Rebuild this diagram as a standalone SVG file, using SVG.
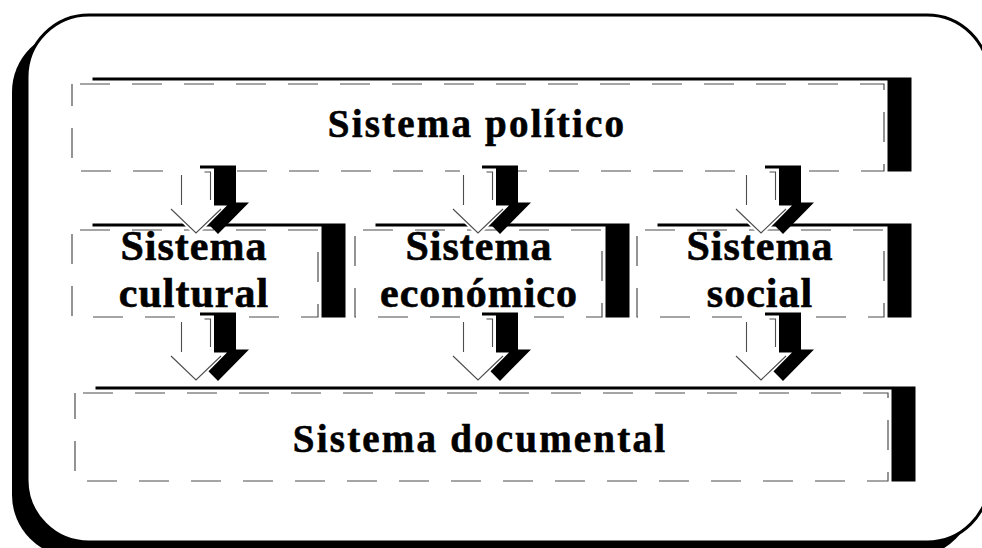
<svg xmlns="http://www.w3.org/2000/svg" width="982" height="548" viewBox="0 0 982 548">
<style>
.sh{fill:#000}
.wb{fill:#fff}
.dl{fill:none;stroke:#4d4d4d;stroke-width:1.2;stroke-dasharray:30 22;stroke-dashoffset:44}
.al{fill:none;stroke:#4d4d4d;stroke-width:1.1}
.t{font-family:"Liberation Serif","Times New Roman",serif;font-weight:bold;fill:#000;stroke:#000;stroke-width:0.6;text-anchor:middle}
.t1{font-size:39px;letter-spacing:2.2px}
.t2{font-size:42px;letter-spacing:1px}
</style>
<defs>
<path id="aout" d="M-18,-3.5 L18,-3.5 L18,33.5 L31,33.5 L0,65 L-31,33.5 L-18,33.5 Z"/>
<path id="ain" d="M8.5,0 L14.5,0 L14.5,28 M25,37 L0,61 L-25,37 M-14.5,33 L-14.5,3"/>
</defs>
<rect x="12" y="30" width="962" height="527" rx="62" fill="#000"/>
<rect x="27" y="15" width="962" height="527" rx="62" fill="#fff" stroke="#000" stroke-width="3"/>

<g id="n-politico">
<rect class="sh" x="92.5" y="77.5" width="819" height="94"/>
<rect class="wb" x="68.5" y="80.5" width="819" height="94"/>
<rect class="dl" x="72" y="84" width="812" height="87"/>
<text class="t t1" x="477" y="137">Sistema político</text>
</g>
<g id="n-cultural">
<rect class="sh" x="92.5" y="223.5" width="253" height="94"/>
<rect class="wb" x="68.5" y="226.5" width="253" height="94"/>
<rect class="dl" x="72" y="230" width="246" height="87"/>
<text class="t t2" x="194" y="260">Sistema</text>
<text class="t t2" x="194" y="307">cultural</text>
</g>
<g id="n-economico">
<rect class="sh" x="375.5" y="223.5" width="254" height="94"/>
<rect class="wb" x="351.5" y="226.5" width="254" height="94"/>
<rect class="dl" x="355" y="230" width="247" height="87"/>
<text class="t t2" x="479" y="260">Sistema</text>
<text class="t t2" x="479" y="307">económico</text>
</g>
<g id="n-social">
<rect class="sh" x="657.5" y="223.5" width="254" height="94"/>
<rect class="wb" x="633.5" y="226.5" width="254" height="94"/>
<rect class="dl" x="637" y="230" width="247" height="87"/>
<text class="t t2" x="760" y="260">Sistema</text>
<text class="t t2" x="760" y="307">social</text>
</g>
<g id="n-documental">
<rect class="sh" x="95.5" y="386.5" width="820" height="95"/>
<rect class="wb" x="71.5" y="389.5" width="820" height="95"/>
<rect class="dl" x="75" y="393" width="813" height="88"/>
<text class="t t1" x="480" y="452">Sistema documental</text>
</g>

<g id="connectors">
<use href="#aout" class="sh" transform="translate(218,169)"/>
<use href="#aout" class="wb" transform="translate(196,172)"/>
<use href="#ain" class="al" transform="translate(196,172)"/>
<use href="#aout" class="sh" transform="translate(500,169)"/>
<use href="#aout" class="wb" transform="translate(478,172)"/>
<use href="#ain" class="al" transform="translate(478,172)"/>
<use href="#aout" class="sh" transform="translate(783,169)"/>
<use href="#aout" class="wb" transform="translate(761,172)"/>
<use href="#ain" class="al" transform="translate(761,172)"/>
<use href="#aout" class="sh" transform="translate(218,316)"/>
<use href="#aout" class="wb" transform="translate(196,319)"/>
<use href="#ain" class="al" transform="translate(196,319)"/>
<use href="#aout" class="sh" transform="translate(500,316)"/>
<use href="#aout" class="wb" transform="translate(478,319)"/>
<use href="#ain" class="al" transform="translate(478,319)"/>
<use href="#aout" class="sh" transform="translate(783,316)"/>
<use href="#aout" class="wb" transform="translate(761,319)"/>
<use href="#ain" class="al" transform="translate(761,319)"/>
</g>
</svg>
